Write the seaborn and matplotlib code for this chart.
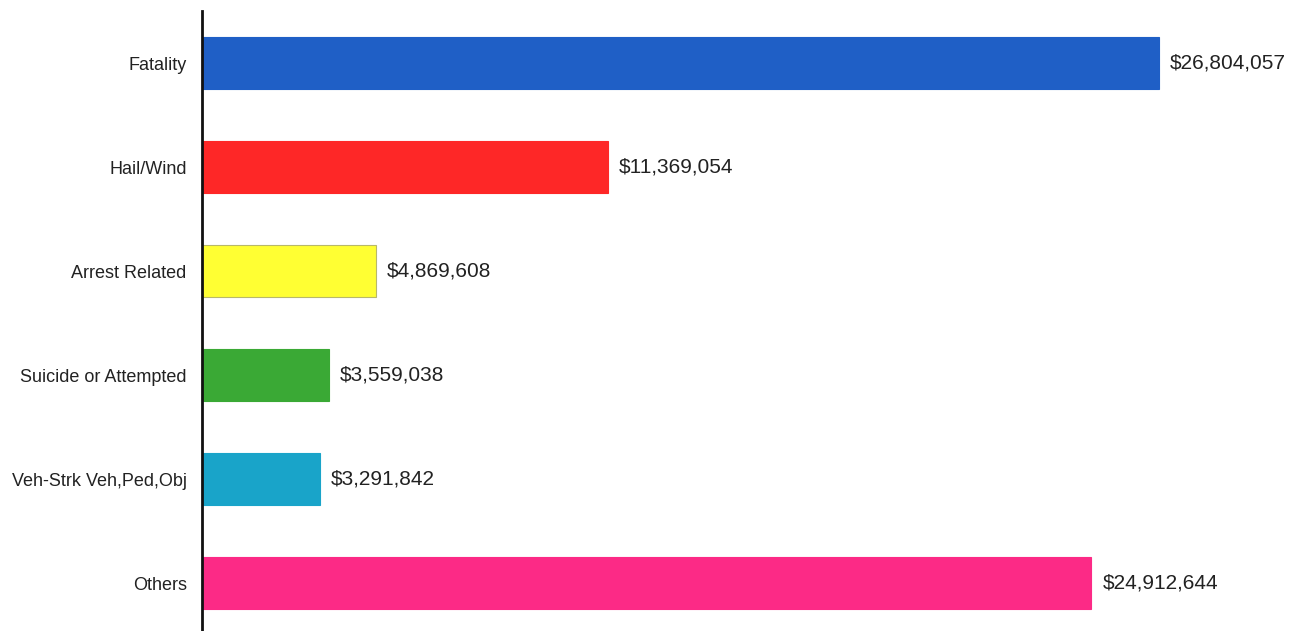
import matplotlib
matplotlib.use("Agg")
import matplotlib.pyplot as plt
import seaborn as sns
import pandas as pd

categories = ["Fatality", "Hail/Wind", "Arrest Related", "Suicide or Attempted",
              "Veh-Strk Veh,Ped,Obj", "Others"]
amounts = [26804057, 11369054, 4869608, 3559038, 3291842, 24912644]
colors = ["#1f5fc6", "#fe2727", "#ffff33", "#3aa935", "#19a4c9", "#fc2a86"]

sns.set_theme(style="white")
plt.rcParams["font.family"] = ["Liberation Sans", "DejaVu Sans"]

df = pd.DataFrame({"category": categories, "amount": amounts})

W, H = 1301, 631
fig = plt.figure(figsize=(W / 100, H / 100), dpi=100)
# axes spans from the category axis line to the right edge of the figure
ax = fig.add_axes([202 / W, (631 - 635) / H, (W - 202) / W, 624 / H])

sns.barplot(data=df, x="amount", y="category", hue="category", palette=colors,
            order=categories, hue_order=categories, orient="h", width=0.5,
            legend=False, ax=ax, saturation=1)

for patch, c in zip(ax.patches, colors):
    patch.set_edgecolor("#b8b86a" if c == "#ffff33" else c)
    patch.set_linewidth(0.8)

px_per_unit = 957 / 26804057
ax.set_xlim(0, (W - 202) / px_per_unit)
ax.set_ylim(5.5, -0.5)

for i, v in enumerate(amounts):
    ax.text(v + 11 / px_per_unit, i, f"${v:,}", va="center", ha="left",
            fontsize=15, color="#222222")

ax.set_xlabel("")
ax.set_ylabel("")
ax.set_xticks([])
ax.tick_params(axis="y", length=0, pad=11, labelsize=13, labelcolor="#222222")
for s in ["top", "right", "bottom"]:
    ax.spines[s].set_visible(False)
ax.spines["left"].set_color("#111111")
ax.spines["left"].set_linewidth(2)

fig.savefig("out.png", dpi=100, facecolor="white")
